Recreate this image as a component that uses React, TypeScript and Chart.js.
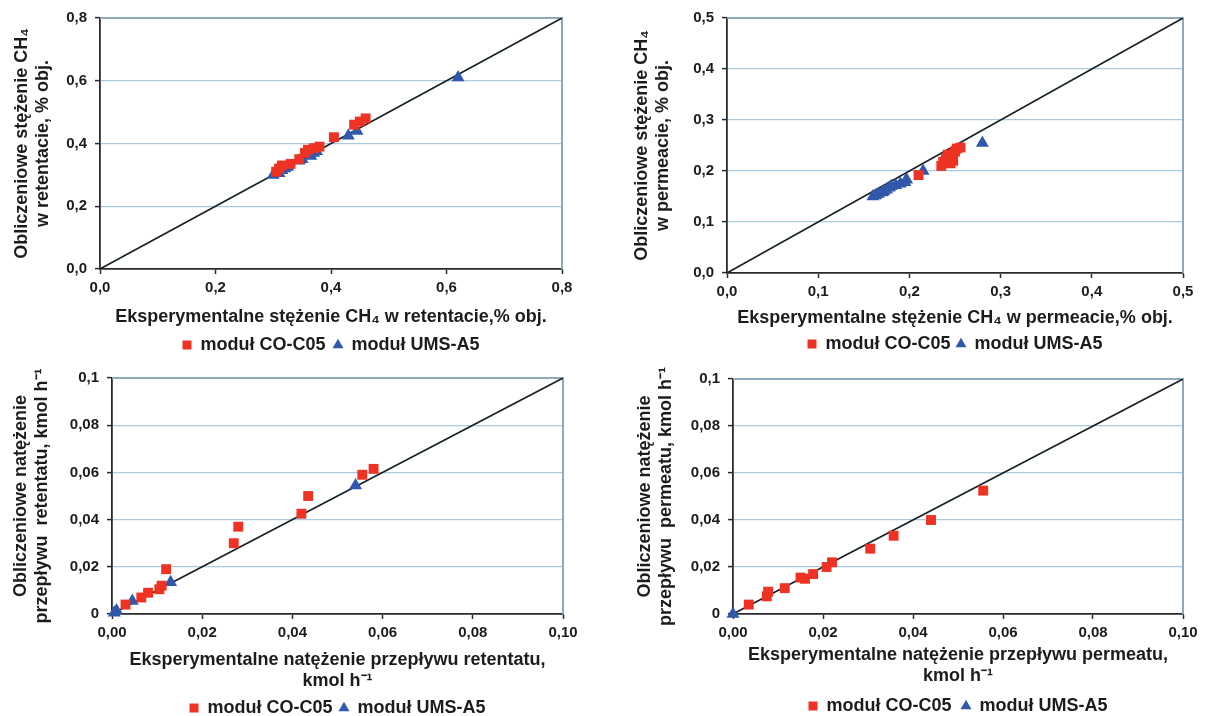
import React, { useEffect, useRef } from 'react';
import { Chart, registerables } from 'chart.js';
Chart.register(...registerables);

const FONT = '"Liberation Sans", Arial, Helvetica, sans-serif';
const RED = '#ee3324';
const BLUE = '#3158aa';
const GRID = '#a9cadf';
const FRAME = '#8fa8b7';
const AXIS = '#2a2a2a';
const TEXT = '#1c1c1c';

const seriesNames = ['moduł CO-C05', 'moduł UMS-A5'];

// Chart 1: CH4 concentration in retentate
const retConcCO: [number, number][] = [
  [0.305, 0.31], [0.31, 0.32], [0.315, 0.33], [0.33, 0.335], [0.345, 0.35], [0.355, 0.37],
  [0.36, 0.38], [0.37, 0.385], [0.38, 0.39], [0.405, 0.42], [0.44, 0.46], [0.45, 0.47], [0.46, 0.48],
];
const retConcUMS: [number, number][] = [
  [0.3, 0.3], [0.305, 0.305], [0.31, 0.305], [0.315, 0.315], [0.32, 0.32], [0.325, 0.325],
  [0.345, 0.345], [0.35, 0.35], [0.365, 0.36], [0.37, 0.37], [0.375, 0.375], [0.43, 0.425],
  [0.445, 0.44], [0.62, 0.61],
];
const retConcTicks = ['0,0', '0,2', '0,4', '0,6', '0,8'];

// Chart 2: CH4 concentration in permeate
const perConcCO: [number, number][] = [
  [0.21, 0.192], [0.235, 0.21], [0.237, 0.218], [0.24, 0.225], [0.242, 0.232], [0.245, 0.215],
  [0.248, 0.22], [0.25, 0.238], [0.252, 0.244], [0.256, 0.246],
];
const perConcUMS: [number, number][] = [
  [0.16, 0.15], [0.163, 0.152], [0.166, 0.155], [0.17, 0.158], [0.172, 0.16], [0.175, 0.163],
  [0.178, 0.167], [0.18, 0.17], [0.185, 0.172], [0.19, 0.175], [0.195, 0.178], [0.197, 0.183],
  [0.215, 0.2], [0.28, 0.255],
];
const perConcTicks = ['0,0', '0,1', '0,2', '0,3', '0,4', '0,5'];

// Chart 3: retentate flow rate
const retFlowCO: [number, number][] = [
  [0.003, 0.004], [0.0065, 0.007], [0.008, 0.009], [0.0105, 0.0105], [0.011, 0.012], [0.012, 0.019],
  [0.027, 0.03], [0.028, 0.037], [0.042, 0.0425], [0.0435, 0.05], [0.0555, 0.059], [0.058, 0.0615],
];
const retFlowUMS: [number, number][] = [
  [0.0005, 0.0005], [0.001, 0.0015], [0.0045, 0.0055], [0.013, 0.0135], [0.054, 0.0545],
];

// Chart 4: permeate flow rate
const perFlowCO: [number, number][] = [
  [0.0035, 0.004], [0.0075, 0.0075], [0.0078, 0.0095], [0.0115, 0.011], [0.015, 0.0155], [0.016, 0.015],
  [0.0178, 0.017], [0.0208, 0.02], [0.022, 0.022], [0.0305, 0.0278], [0.0357, 0.0333], [0.044, 0.04],
  [0.0556, 0.0525],
];
const perFlowUMS: [number, number][] = [[0, 0]];

const flowXTicks = ['0,00', '0,02', '0,04', '0,06', '0,08', '0,10'];
const flowYTicks = ['0', '0,02', '0,04', '0,06', '0,08', '0,1'];

interface PanelCfg {
  left: number; top: number; width: number; height: number;
  pad: { left: number; right: number; top: number };
  yWidth: number; xHeight: number; legendPad: number;
  max: number; step: number;
  xTicks: string[]; yTicks: string[];
  xTitle: string | string[]; yTitle: string[];
  co: [number, number][]; ums: [number, number][];
}

const panels: PanelCfg[] = [
  {
    left: 0, top: 0, width: 600, height: 364,
    pad: { left: 11, right: 38, top: 18 }, yWidth: 89, xHeight: 59, legendPad: 8,
    max: 0.8, step: 0.2, xTicks: retConcTicks, yTicks: retConcTicks,
    xTitle: 'Eksperymentalne stężenie CH₄ w retentacie,% obj.',
    yTitle: ['Obliczeniowe stężenie CH₄', 'w retentacie, % obj.'],
    co: retConcCO, ums: retConcUMS,
  },
  {
    left: 600, top: 0, width: 605, height: 363,
    pad: { left: 31, right: 22, top: 18 }, yWidth: 96, xHeight: 56, legendPad: 6,
    max: 0.5, step: 0.1, xTicks: perConcTicks, yTicks: perConcTicks,
    xTitle: 'Eksperymentalne stężenie CH₄ w permeacie,% obj.',
    yTitle: ['Obliczeniowe stężenie CH₄', 'w permeacie, % obj.'],
    co: perConcCO, ums: perConcUMS,
  },
  {
    left: 0, top: 358, width: 600, height: 369,
    pad: { left: 10, right: 37, top: 20 }, yWidth: 102, xHeight: 78, legendPad: 7,
    max: 0.1, step: 0.02, xTicks: flowXTicks, yTicks: flowYTicks,
    xTitle: ['Eksperymentalne natężenie przepływu retentatu,', 'kmol h⁻¹'],
    yTitle: ['Obliczeniowe natężenie', 'przepływu  retentatu, kmol h⁻¹'],
    co: retFlowCO, ums: retFlowUMS,
  },
  {
    left: 600, top: 358, width: 605, height: 367,
    pad: { left: 34, right: 22, top: 21 }, yWidth: 99, xHeight: 73, legendPad: 10,
    max: 0.1, step: 0.02, xTicks: flowXTicks, yTicks: flowYTicks,
    xTitle: ['Eksperymentalne natężenie przepływu permeatu,', 'kmol h⁻¹'],
    yTitle: ['Obliczeniowe natężenie', 'przepływu  permeatu, kmol h⁻¹'],
    co: perFlowCO, ums: perFlowUMS,
  },
];

const framePlugin = {
  id: 'frame',
  beforeDatasetsDraw(chart: any) {
    const { ctx, chartArea } = chart;
    const { left, right, top, bottom } = chartArea;
    ctx.save();
    ctx.strokeStyle = FRAME;
    ctx.lineWidth = 2;
    ctx.beginPath();
    ctx.moveTo(left, top);
    ctx.lineTo(right, top);
    ctx.lineTo(right, bottom);
    ctx.stroke();
    ctx.restore();
  },
};

function Panel({ cfg }: { cfg: PanelCfg }) {
  const ref = useRef<HTMLCanvasElement | null>(null);
  useEffect(() => {
    if (!ref.current) return;
    const tickFont = { family: FONT, size: 15, weight: 'bold' as const };
    const titleFont = { family: FONT, size: 18, weight: 'bold' as const, lineHeight: 1.2 };
    const chart = new Chart(ref.current, {
      type: 'scatter',
      data: {
        datasets: [
          {
            label: seriesNames[0],
            data: cfg.co.map(([x, y]) => ({ x, y })),
            pointStyle: 'rect',
            pointRadius: 7,
            pointHoverRadius: 7,
            backgroundColor: RED,
            borderColor: RED,
            borderWidth: 0,
            clip: false,
          } as any,
          {
            label: seriesNames[1],
            data: cfg.ums.map(([x, y]) => ({ x, y })),
            pointStyle: 'triangle',
            pointRadius: 7.5,
            pointHoverRadius: 7.5,
            backgroundColor: BLUE,
            borderColor: BLUE,
            borderWidth: 0,
            clip: false,
          } as any,
          {
            label: 'diag',
            data: [{ x: 0, y: 0 }, { x: cfg.max, y: cfg.max }],
            showLine: true,
            borderColor: '#142024',
            borderWidth: 1.6,
            pointRadius: 0,
            fill: false,
          } as any,
        ],
      },
      options: {
        animation: false,
        responsive: false,
        devicePixelRatio: 1,
        events: [],
        layout: { padding: { left: cfg.pad.left, right: cfg.pad.right, top: cfg.pad.top, bottom: 0 } },
        plugins: {
          tooltip: { enabled: false },
          legend: {
            position: 'bottom',
            fullSize: false,
            labels: {
              usePointStyle: true,
              boxWidth: 9,
              boxHeight: 9,
              padding: cfg.legendPad,
              color: TEXT,
              font: { family: FONT, size: 18, weight: 'bold' },
              filter: (item: any) => item.datasetIndex < 2,
            },
          },
        },
        scales: {
          x: {
            type: 'linear',
            min: 0,
            max: cfg.max,
            afterFit: (s: any) => { s.height = cfg.xHeight; },
            ticks: {
              stepSize: cfg.step,
              padding: 5,
              maxRotation: 0,
              autoSkip: false,
              color: TEXT,
              font: tickFont,
              callback: (_v: any, i: number) => cfg.xTicks[i],
            },
            grid: { drawOnChartArea: false, drawTicks: true, tickLength: 5, tickColor: AXIS, tickWidth: 1.5 },
            border: { display: true, color: AXIS, width: 1.8 },
            title: { display: true, text: cfg.xTitle, color: TEXT, font: titleFont, padding: { top: 0, bottom: 0 } },
          },
          y: {
            type: 'linear',
            min: 0,
            max: cfg.max,
            afterFit: (s: any) => { s.width = cfg.yWidth; },
            ticks: {
              stepSize: cfg.step,
              padding: 8,
              autoSkip: false,
              color: TEXT,
              font: tickFont,
              callback: (_v: any, i: number) => cfg.yTicks[i],
            },
            grid: {
              color: (c: any) => (c.tick && c.tick.value === 0 ? 'rgba(0,0,0,0)' : GRID),
              lineWidth: 1.2,
              drawTicks: true,
              tickLength: 5,
              tickColor: AXIS,
              tickWidth: 1.5,
            },
            border: { display: true, color: AXIS, width: 1.8 },
            title: { display: true, text: cfg.yTitle, color: TEXT, font: titleFont, padding: { top: 0, bottom: 0 } },
          },
        },
      } as any,
      plugins: [framePlugin],
    });
    return () => chart.destroy();
  }, [cfg]);
  return (
    <canvas
      ref={ref}
      width={cfg.width}
      height={cfg.height}
      style={{ position: 'absolute', left: cfg.left, top: cfg.top, width: cfg.width, height: cfg.height }}
    />
  );
}

export default function App() {
  return (
    <div style={{ position: 'absolute', left: 0, top: 0, width: 1205, height: 716, overflow: 'hidden', background: '#fff' }}>
      {panels.map((p, i) => (
        <Panel key={i} cfg={p} />
      ))}
    </div>
  );
}
